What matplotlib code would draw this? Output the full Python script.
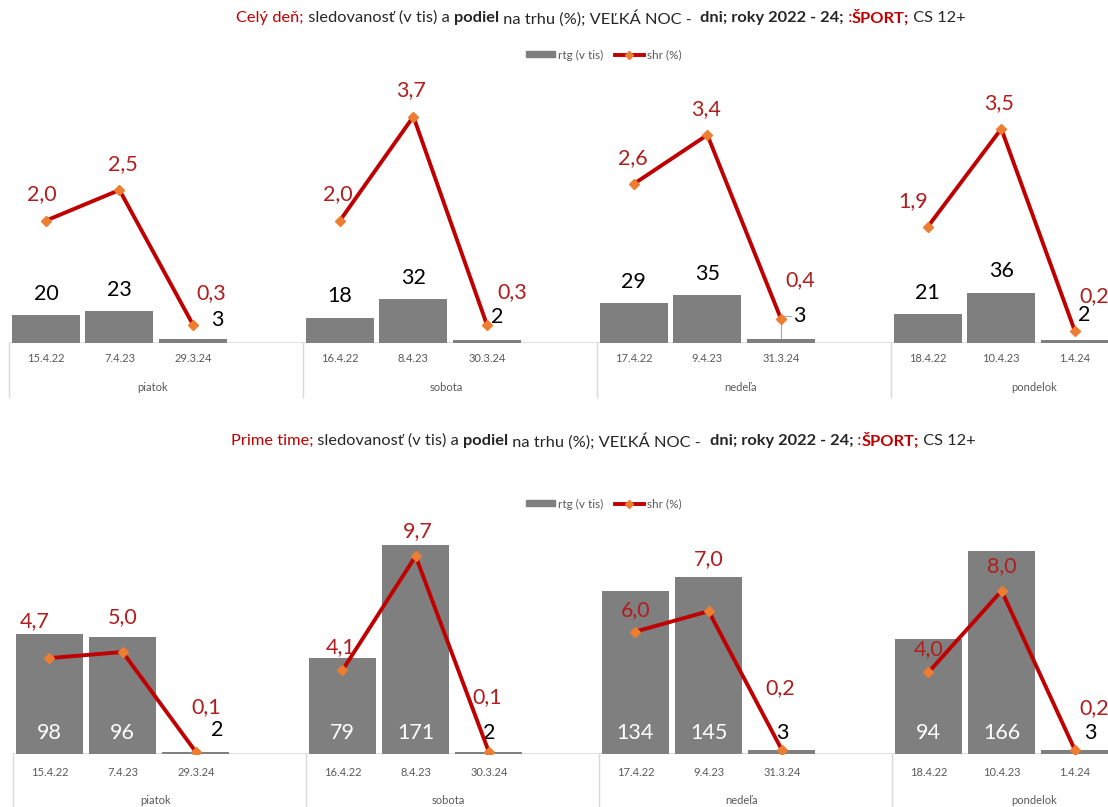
import matplotlib
matplotlib.use("Agg")
import matplotlib.pyplot as plt
from matplotlib.patches import Patch
from matplotlib.lines import Line2D
from matplotlib.transforms import blended_transform_factory

plt.rcParams['font.family'] = ['Lato', 'DejaVu Sans']

# ---------------- data ----------------
dates = ['15.4.22', '7.4.23', '29.3.24', '16.4.22', '8.4.23', '30.3.24',
         '17.4.22', '9.4.23', '31.3.24', '18.4.22', '10.4.23', '1.4.24']
days = ['piatok', 'sobota', 'nedeľa', 'pondelok']
rtg_day = [20, 23, 3, 18, 32, 2, 29, 35, 3, 21, 36, 2]
shr_day = [2.0, 2.5, 0.3, 2.0, 3.7, 0.3, 2.6, 3.4, 0.4, 1.9, 3.5, 0.2]
rtg_prime = [98, 96, 2, 79, 171, 2, 134, 145, 3, 94, 166, 3]
shr_prime = [4.7, 5.0, 0.1, 4.1, 9.7, 0.1, 6.0, 7.0, 0.2, 4.0, 8.0, 0.2]
legend_labels = ['rtg (v tis)', 'shr (%)']

title_top = [("Celý deň;", 'red', 'normal'), (" sledovanosť (v tis) a ", 'k', 'normal'),
             ("podiel", 'k', 'bold'), (" na trhu (%); VEĽKÁ NOC -  ", 'k', 'normal'),
             ("dni; roky 2022 - 24;", 'k', 'bold'), (" :", 'red', 'normal'),
             ("ŠPORT;", 'red', 'bold'), (" CS 12+", 'k', 'normal')]
title_bot = [("Prime time;", 'red', 'normal')] + title_top[1:]

# ---------------- style ----------------
W, H = 1108, 807
DPI = 100
BAR = '#7F7F7F'
LINE = '#C00000'
MARK = '#ED7D31'
LBL_RED = '#B01E1E'
GRID = '#D9D9D9'
TXT = '#595959'
COLORS = {'red': '#C00000', 'k': '#262626'}

fig = plt.figure(figsize=(W / DPI, H / DPI), dpi=DPI)


def fy(py):
    return 1 - py / H


def make_axes(lpx, rpx, bpx, tpx):
    return fig.add_axes([lpx / W, fy(bpx), (rpx - lpx) / W, (bpx - tpx) / H])


xs = [g * 4 + i for g in range(4) for i in range(3)]


def panel(ax, rtg, shr, y1max, y2max, barw, bar_off, shr_off, inside,
          tick_dy, day_dy, sep_dy, leader=None):
    ax2 = ax.twinx()
    ax.set_xlim(-0.5, 15.5)
    ax.set_ylim(0, y1max)
    ax2.set_ylim(0, y2max)
    for a in (ax, ax2):
        for s in a.spines.values():
            s.set_visible(False)
        a.set_xticks([])
        a.set_yticks([])
    ax.axhline(0, color=GRID, lw=1.2, zorder=1)
    ax.bar(xs, rtg, width=barw, color=BAR, zorder=2)
    for g in range(4):
        sl = slice(g * 3, g * 3 + 3)
        ax2.plot(xs[sl], shr[sl], color=LINE, lw=2.8, zorder=3,
                 marker='D', ms=5, mfc=MARK, mec=MARK, solid_capstyle='round')
    # bar labels
    for i, (x, v) in enumerate(zip(xs, rtg)):
        dx, dy = bar_off[i]
        if inside and v > 20:
            ax.annotate(str(v), (x, 0), xytext=(dx, dy), textcoords='offset pixels',
                        ha='center', va='center', fontsize=15.5, color='white', zorder=5)
        else:
            base = 0 if inside else v
            ax.annotate(str(v), (x, base), xytext=(dx, dy), textcoords='offset pixels',
                        ha='center', va='center', fontsize=15.5, color='black', zorder=5)
    if leader is not None:
        i, (dx, dy) = leader
        ax.annotate('', xy=(xs[i], rtg[i]), xytext=(dx, dy), textcoords='offset pixels',
                    arrowprops=dict(arrowstyle='-', color='#A6A6A6', lw=0.8,
                                    shrinkA=0, shrinkB=0,
                                    connectionstyle='angle,angleA=0,angleB=90,rad=0'),
                    zorder=1.5)
    # shr labels
    for i, (x, v) in enumerate(zip(xs, shr)):
        dx, dy = shr_off[i]
        ax2.annotate(f"{v:.1f}".replace('.', ','), (x, v), xytext=(dx, dy),
                     textcoords='offset pixels', ha='center', va='center',
                     fontsize=15.5, color=LBL_RED, zorder=5)
    tr = blended_transform_factory(ax.transData, ax.transAxes)
    for x, d in zip(xs, dates):
        ax.annotate(d, (x, 0), xycoords=tr, xytext=(0, -tick_dy), textcoords='offset pixels',
                    ha='center', va='center', fontsize=8, color=TXT, annotation_clip=False)
    for g, d in enumerate(days):
        ax.annotate(d, (g * 4 + 1.45, 0), xycoords=tr, xytext=(0, -day_dy),
                    textcoords='offset pixels', ha='center', va='center', fontsize=8,
                    color=TXT, annotation_clip=False)
    for g in range(5):
        ln = Line2D([g * 4 - 0.5, g * 4 - 0.5], [0, -sep_dy / (ax.bbox.height)],
                    transform=tr, color=GRID, lw=1, clip_on=False)
        ax.add_line(ln)
    return ax2


# top panel
ax_t = make_axes(9.25, 1185, 343, 80)
bar_off_t = [(0, 21), (0, 21), (24, 19), (0, 22), (0, 21), (10, 23),
             (0, 21), (0, 21), (19, 23), (0, 21), (0, 22), (9, 25)]
shr_off_t = [(-4, 27), (3, 26), (18, 32), (-2, 27), (-2, 26), (25, 33),
             (-1, 26), (-1, 26), (19, 38), (-15, 26), (-2, 26), (19, 35)]
panel(ax_t, rtg_day, shr_day, 263 / 1.38, 263 / 61.2, 0.925, bar_off_t, shr_off_t,
      False, 15, 44, 54, leader=(8, (10, 23)))

# bottom panel
ax_b = make_axes(12.75, 1184.75, 754, 520)
bar_off_b = [(0, 21), (0, 21), (21, 24), (0, 21), (0, 21), (0, 21),
             (0, 21), (0, 21), (0, 21), (0, 21), (0, 21), (15, 21)]
shr_off_b = [(-15, 37), (0, 35), (10, 45), (-2, 23), (2, 25), (-2, 55),
             (0, 22), (0, 52), (-2, 62), (0, 23), (0, 25), (19, 42)]
panel(ax_b, rtg_prime, shr_prime, 234 / 1.22, 234 / 20.4, 0.915, bar_off_b, shr_off_b,
      True, 19, 46, 60)

# legends
handles = [Patch(color=BAR), Line2D([], [], color=LINE, lw=2.8, marker='D', ms=4,
                                     mfc=MARK, mec=MARK)]
for ly in (55, 504):
    fig.legend(handles, legend_labels, loc='center', bbox_to_anchor=(604 / W, fy(ly)),
               ncol=2, frameon=False, fontsize=8.5, labelcolor=TXT, handlelength=2.4,
               handleheight=0.4, columnspacing=1.0, handletextpad=0.3)

# rich titles
renderer = fig.canvas.get_renderer()


def rich_title(parts, cx, py):
    texts = []
    for s, c, w in parts:
        t = fig.text(0, fy(py), s, color=COLORS[c], fontweight=w, fontsize=11.8,
                     va='center', ha='left')
        texts.append(t)
    widths = [t.get_window_extent(renderer).width for t in texts]
    total = sum(widths)
    x = cx - total / 2
    for t, w in zip(texts, widths):
        t.set_x(x / W)
        x += w


rich_title(title_top, 601, 18)
rich_title(title_bot, 603, 441)

fig.savefig('out.png', dpi=DPI)
